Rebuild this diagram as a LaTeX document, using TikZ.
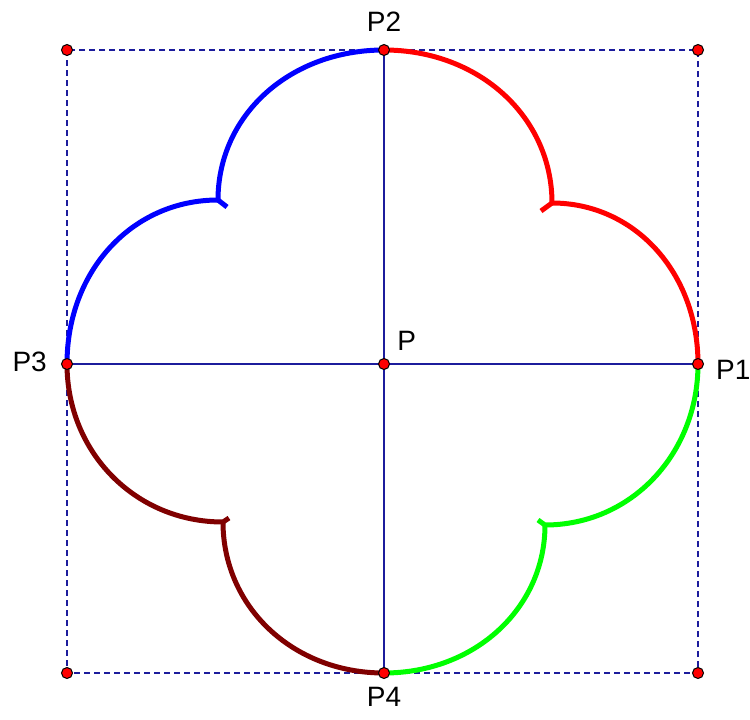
\documentclass[tikz,border=0pt]{standalone}
\usepackage{fontspec}
\setmainfont{Liberation Sans}
\usetikzlibrary{positioning}
\definecolor{cAxis}{HTML}{1C1C9C}
\definecolor{cRed}{HTML}{FF0000}
\definecolor{cBlue}{HTML}{0000FF}
\definecolor{cGreen}{HTML}{00FF00}
\definecolor{cBrown}{HTML}{800000}
\tikzset{
  pt/.style={circle, draw=black, fill=red, line width=1pt, inner sep=0pt, minimum size=11pt},
  frame/.style={dash pattern=on 6pt off 4pt, draw=cAxis, line width=1.4pt},
  axis/.style={draw=cAxis, line width=1.6pt},
  lobe/.style={draw=#1, line width=5pt, line join=round},
  lbl/.style={font=\fontsize{28}{28}\selectfont, inner sep=1pt},
}
\begin{document}
\begin{tikzpicture}[x=1pt, y=-1pt]
  \useasboundingbox (0,0) rectangle (750,720);
  % points
  \coordinate (P) at (384,364);
  \coordinate (P1) at (698,364);
  \coordinate (P2) at (384,50);
  \coordinate (P3) at (67,364);
  \coordinate (P4) at (384,673);
  \coordinate (k1) at (698,50);
  \coordinate (k2) at (67,50);
  \coordinate (k3) at (67,673);
  \coordinate (k4) at (698,673);
  % cusps and their tails
  \coordinate (c1) at (552,203);  \coordinate (t1) at (541,211);
  \coordinate (c2) at (218,200);  \coordinate (t2) at (227,207);
  \coordinate (c3) at (223,522);  \coordinate (t3) at (229,518);
  \coordinate (c4) at (545,525);  \coordinate (t4) at (538,520);
  \draw[frame] (k2) rectangle (k4);
  \draw[axis] (P3) -- (P1);
  \draw[axis] (P2) -- (P4);
  \draw[lobe=cRed] (P2) .. controls +(95,0) and +(0,-86) .. (c1) -- (t1);
  \draw[lobe=cRed] (c1) .. controls +(82,0) and +(0,-92) .. (P1);
  \draw[lobe=cBlue] (P2) .. controls +(-94,0) and +(0,-85) .. (c2) -- (t2);
  \draw[lobe=cBlue] (c2) .. controls +(-85,0) and +(0,-94) .. (P3);
  \draw[lobe=cBrown] (P3) .. controls +(0,88) and +(-88,0) .. (c3) -- (t3);
  \draw[lobe=cBrown] (c3) .. controls +(0,85) and +(-91,0) .. (P4);
  \draw[lobe=cGreen] (P1) .. controls +(0,90) and +(86,0) .. (c4) -- (t4);
  \draw[lobe=cGreen] (c4) .. controls +(0,83) and +(91,0) .. (P4);
  % markers
  \foreach \p in {P,P1,P2,P3,P4,k1,k2,k3,k4}
    \node[pt] (n\p) at (\p) {};
  \node[lbl, above right=8pt and 8pt of nP] (lP) {P};
  \node[lbl, right=11pt of nP1, yshift=-6pt] (lP1) {P1};
  \node[lbl, above=11pt of nP2] (lP2) {P2};
  \node[lbl, left=13pt of nP3, yshift=2pt] (lP3) {P3};
  \node[lbl, below=7pt of nP4] (lP4) {P4};
\end{tikzpicture}
\end{document}
